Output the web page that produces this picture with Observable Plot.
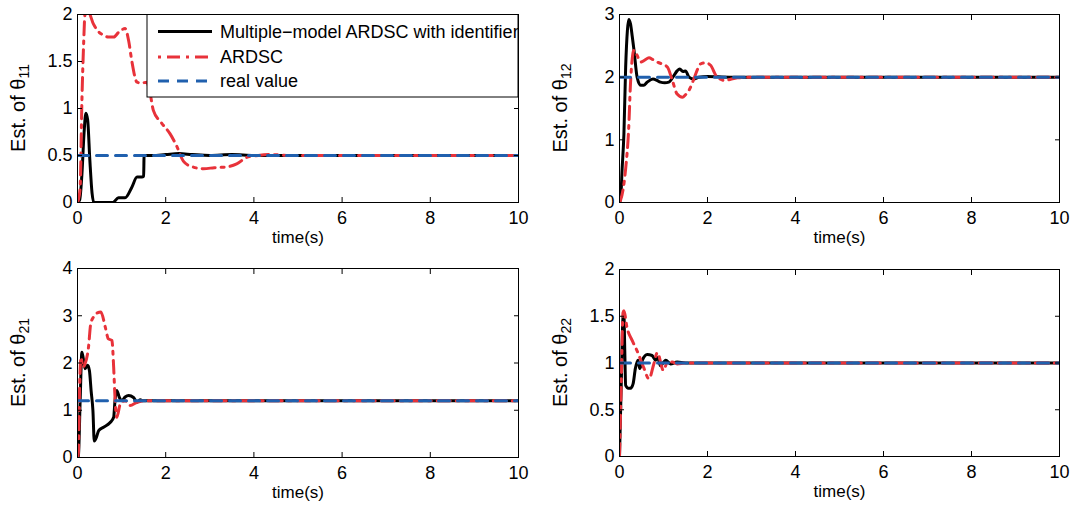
<!DOCTYPE html>
<html><head><meta charset="utf-8">
<script src="https://cdn.jsdelivr.net/npm/d3@7"></script>
<script src="https://cdn.jsdelivr.net/npm/@observablehq/plot@0.6"></script>
<style>
body{margin:0;background:#fff;}
#wrap{position:relative;width:1075px;height:508px;font-family:"Liberation Sans",Arial,sans-serif;}
.panel{position:absolute;}
</style></head><body><div id="wrap"></div>
<script>
// ---------- data ----------
const timeTicks = [0, 2, 4, 6, 8, 10];
const seriesNames = ["Multiple\u2212model ARDSC with identifier", "ARDSC", "real value"];

// theta11
const t11Multi = [0,0.05,0.1,0.15,0.19,0.23,0.28,0.33,0.37,0.8,0.93,1.08,1.23,1.35,1.46,1.5,1.51,1.7,2.0,2.3,2.6,3.0,3.5,4.0,5,6,7,8,9,10];
const v11Multi = [0,0.03,0.3,0.75,0.95,0.88,0.45,0.1,0,0,0.05,0.05,0.16,0.27,0.27,0.28,0.5,0.5,0.51,0.52,0.51,0.5,0.51,0.5,0.5,0.5,0.5,0.5,0.5,0.5];
const t11Ardsc = [0,0.03,0.06,0.1,0.14,0.17,0.25,0.36,0.47,0.59,0.7,0.82,0.95,1.08,1.16,1.23,1.35,1.45,1.57,1.65,1.72,1.9,2.1,2.25,2.4,2.6,2.86,3.1,3.4,3.61,3.84,4.1,4.4,4.8,5.5,6,7,8,9,10];
const v11Ardsc = [0,0.05,0.16,1.08,1.7,2.0,2.02,1.9,1.82,1.78,1.76,1.76,1.82,1.85,1.72,1.51,1.28,1.27,1.28,1.15,0.98,0.85,0.73,0.6,0.44,0.38,0.36,0.37,0.38,0.41,0.48,0.5,0.51,0.5,0.5,0.5,0.5,0.5,0.5,0.5];
// theta12
const t12Multi = [0,0.03,0.06,0.1,0.14,0.18,0.21,0.25,0.29,0.33,0.4,0.48,0.55,0.63,0.76,0.85,0.93,1.03,1.12,1.24,1.31,1.37,1.44,1.5,1.58,1.69,1.8,2.0,2.5,3,4,5,6,7,8,9,10];
const v12Multi = [0,0.1,0.54,1.09,2.16,2.75,2.92,2.85,2.65,2.43,2.0,1.87,1.87,1.92,1.97,1.95,1.92,1.91,1.92,2.03,2.1,2.13,2.09,2.1,2.0,1.97,2.0,2.01,2.0,2.0,2.0,2.0,2.0,2.0,2.0,2.0,2.0];
const t12Ardsc = [0,0.02,0.08,0.14,0.21,0.25,0.29,0.33,0.4,0.48,0.57,0.67,0.76,0.86,1.0,1.09,1.2,1.31,1.43,1.5,1.58,1.69,1.77,1.84,1.95,2.07,2.19,2.38,2.68,3,3.5,4,5,6,7,8,9,10];
const v12Ardsc = [0,0.03,0.2,0.54,1.2,1.9,2.3,2.43,2.35,2.24,2.27,2.31,2.28,2.24,2.2,2.16,1.95,1.73,1.68,1.72,1.79,1.97,2.12,2.21,2.23,2.19,2.03,1.95,1.99,2.0,2.0,2.0,2.0,2.0,2.0,2.0,2.0,2.0];
// theta21
const t21Multi = [0,0.02,0.06,0.1,0.13,0.17,0.23,0.27,0.31,0.35,0.38,0.43,0.48,0.59,0.74,0.82,0.85,0.89,0.95,1.0,1.08,1.16,1.27,1.35,1.42,1.5,1.7,2,3,4,5,6,7,8,9,10];
const v21Multi = [0,0.03,1.2,2.23,2.1,1.88,1.95,1.84,1.4,0.99,0.35,0.43,0.57,0.64,0.74,0.85,1.2,1.42,1.27,1.2,1.28,1.31,1.27,1.17,1.22,1.2,1.2,1.2,1.2,1.2,1.2,1.2,1.2,1.2,1.2,1.2];
const t21Ardsc = [0,0.02,0.05,0.08,0.12,0.17,0.25,0.3,0.36,0.45,0.53,0.63,0.7,0.78,0.82,0.85,0.89,0.97,1.08,1.19,1.35,1.5,2,3,4,5,6,7,8,9,10];
const v21Ardsc = [0,0.1,1.56,2.12,1.91,1.98,2.34,2.83,2.97,3.06,3.08,2.76,2.51,2.48,1.91,1.27,0.85,1.13,1.2,1.1,1.17,1.2,1.2,1.2,1.2,1.2,1.2,1.2,1.2,1.2,1.2];
// theta22
const t22Multi = [0,0.04,0.08,0.1,0.12,0.14,0.2,0.25,0.31,0.36,0.42,0.46,0.52,0.63,0.74,0.82,0.87,0.93,1.05,1.16,1.31,1.5,2,3,4,5,6,7,8,9,10];
const v22Multi = [0,0.78,1.49,1.52,1.13,0.76,0.73,0.73,0.78,0.94,1.03,0.94,1.03,1.09,1.08,1.03,1.06,0.97,1.03,0.99,1.01,1.0,1.0,1.0,1.0,1.0,1.0,1.0,1.0,1.0,1.0];
const t22Ardsc = [0,0.04,0.08,0.1,0.17,0.29,0.4,0.55,0.67,0.78,0.86,1.0,1.09,1.2,1.31,1.5,2,3,4,5,6,7,8,9,10];
const v22Ardsc = [0,0.78,1.54,1.56,1.38,1.24,1.13,0.95,0.83,0.99,1.11,0.92,1.01,1.01,0.99,1.0,1.0,1.0,1.0,1.0,1.0,1.0,1.0,1.0,1.0];

const realValues = [0.5, 2, 1.2, 1];
const realTimes = [0, 10];
const yDomains = [[0, 2], [0, 3], [0, 4], [0, 2]];
const yTicks = [[0, 0.5, 1, 1.5, 2], [0, 1, 2, 3], [0, 1, 2, 3, 4], [0, 0.5, 1, 1.5, 2]];
const subscripts = ["11", "12", "21", "22"];

// ---------- styles ----------
const RED = "#e8323a", BLUE = "#2060ae", FONT = "Liberation Sans, Arial, sans-serif";
const zipTV = (t, v) => t.map((d, i) => ({t: d, v: v[i]}));

const panels = [
  {left: 0,   top: 0,   width: 540, mL: 77, mR: 22, mT: 14, mB: 52, multi: zipTV(t11Multi, v11Multi), ardsc: zipTV(t11Ardsc, v11Ardsc)},
  {left: 540, top: 0,   width: 535, mL: 79, mR: 16, mT: 14, mB: 52, multi: zipTV(t12Multi, v12Multi), ardsc: zipTV(t12Ardsc, v12Ardsc)},
  {left: 0,   top: 254, width: 540, mL: 77, mR: 22, mT: 14, mB: 51, multi: zipTV(t21Multi, v21Multi), ardsc: zipTV(t21Ardsc, v21Ardsc)},
  {left: 540, top: 254, width: 535, mL: 79, mR: 16, mT: 15, mB: 52, multi: zipTV(t22Multi, v22Multi), ardsc: zipTV(t22Ardsc, v22Ardsc)}
];
const H = 254;
const fmt = d => `${d}`;

const wrap = document.getElementById("wrap");
panels.forEach((p, k) => {
  const real = realTimes.map(t => ({t, v: realValues[k]}));
  const svg = Plot.plot({
    width: p.width, height: H,
    marginLeft: p.mL, marginRight: p.mR, marginTop: p.mT, marginBottom: p.mB,
    x: {domain: [0, 10]},
    y: {domain: yDomains[k]},
    style: {fontFamily: FONT, fontSize: "18px", color: "#000", background: "none", overflow: "visible"},
    marks: [
      Plot.line(p.multi, {x: "t", y: "v", stroke: "#000", strokeWidth: 3, curve: "monotone-x", clip: true}),
      Plot.line(p.ardsc, {x: "t", y: "v", stroke: RED, strokeWidth: 3, strokeDasharray: "13,6,3,6", curve: "monotone-x", clip: true}),
      Plot.line(real, {x: "t", y: "v", stroke: BLUE, strokeWidth: 3, strokeDasharray: "11,8", clip: true}),
      Plot.frame({stroke: "#000", strokeWidth: 1}),
      Plot.axisX({ticks: timeTicks, tickSize: 0, tickPadding: 9, tickFormat: fmt, fontSize: 18, label: null}),
      Plot.axisX({ticks: timeTicks, anchor: "bottom", tickSize: -5, tickFormat: () => "", label: null}),
      Plot.axisX({ticks: timeTicks, anchor: "top", tickSize: -5, tickFormat: () => "", label: null}),
      Plot.axisY({ticks: yTicks[k], tickSize: 0, tickPadding: 5, tickFormat: fmt, fontSize: 18, label: null}),
      Plot.axisY({ticks: yTicks[k], anchor: "left", tickSize: -5, tickFormat: () => "", label: null}),
      Plot.axisY({ticks: yTicks[k], anchor: "right", tickSize: -5, tickFormat: () => "", label: null}),
      Plot.text(["time(s)"], {text: d => d, frameAnchor: "bottom", lineAnchor: "top", dy: 28, fontSize: 17})
    ]
  });
  const div = document.createElement("div");
  div.className = "panel";
  div.style.left = p.left + "px";
  div.style.top = p.top + "px";
  div.appendChild(svg);
  wrap.appendChild(div);

  const s = d3.select(svg);
  const cy = (p.mT + (H - p.mB)) / 2;
  const lx = k % 2 === 0 ? 25 : 27;
  const tx = s.append("text")
    .attr("transform", `translate(${lx},${cy}) rotate(-90)`)
    .attr("text-anchor", "middle")
    .style("font-family", FONT).style("font-size", "20px").attr("fill", "#000");
  tx.append("tspan").text("Est. of \u03b8");
  tx.append("tspan").attr("dy", "0.3em").style("font-size", "14px").text(subscripts[k]);

  if (k === 0) {
    const g = s.append("g").attr("text-anchor", "start");
    const lx0 = 147, ly0 = 14.5, lw = 371, lh = 82.5;
    g.append("rect").attr("x", lx0).attr("y", ly0).attr("width", lw).attr("height", lh)
      .attr("fill", "#fff").attr("stroke", "#000").attr("stroke-width", 1);
    const rows = [
      {y: 31.5, stroke: "#000", dash: null},
      {y: 57, stroke: RED, dash: "3,6,13,6"},
      {y: 81, stroke: BLUE, dash: "11,8"}
    ];
    rows.forEach((r, i) => {
      const ln = g.append("line").attr("x1", 158).attr("x2", 212).attr("y1", r.y).attr("y2", r.y)
        .attr("stroke", r.stroke).attr("stroke-width", 3);
      if (r.dash) ln.attr("stroke-dasharray", r.dash);
      g.append("text").attr("x", 220).attr("y", r.y).attr("dy", "0.35em")
        .attr("text-anchor", "start")
        .style("font-family", FONT).style("font-size", "18px").attr("fill", "#000")
        .text(seriesNames[i]);
    });
  }
});
</script>
</body></html>
